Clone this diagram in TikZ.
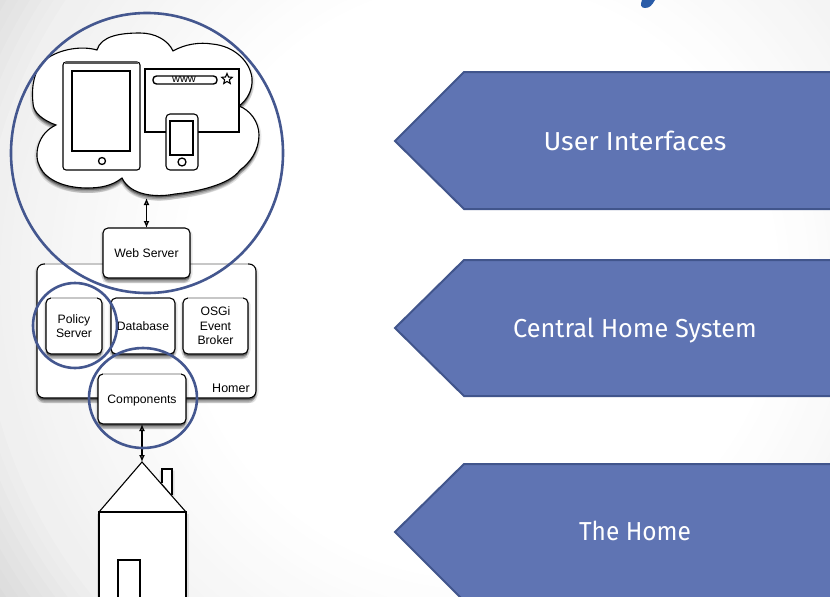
\documentclass[tikz,border=0pt]{standalone}
\usepackage{fontspec}
\setmainfont{Liberation Sans}
\newfontfamily\labelfont{Fira Sans}
\usetikzlibrary{arrows.meta,shapes.geometric,shadows}
\definecolor{ringblue}{HTML}{44578F}
\definecolor{pentfill}{HTML}{5F74B3}
\definecolor{pentline}{HTML}{41558C}
\definecolor{titleblue}{HTML}{2A5CA8}
\newcommand{\onelbl}[1]{\raisebox{-4.3pt}[0pt][0pt]{#1}}
\tikzset{
  softshadow/.style={
    general shadow={fill=black,opacity=.09,shadow xshift=-2.5pt,shadow yshift=-1.5pt},
    general shadow={fill=black,opacity=.09,shadow xshift=2.5pt,shadow yshift=-1.5pt},
    general shadow={fill=black,opacity=.12,shadow xshift=-1pt,shadow yshift=-5pt},
    general shadow={fill=black,opacity=.12,shadow xshift=1pt,shadow yshift=-5pt},
    general shadow={fill=black,opacity=.18,shadow xshift=0pt,shadow yshift=-3.5pt},
    general shadow={fill=black,opacity=.30,shadow xshift=0pt,shadow yshift=-2pt}},
  sketch/.style={draw=black,line width=1.1pt},
  boxnode/.style={sketch,softshadow,fill=white,rounded corners=5pt,inner sep=0pt,outer sep=0pt,align=center,font=\fontsize{12.2}{14.5}\selectfont},
  topedge/.style={draw=black!22,line width=2.2pt},
  ring/.style={draw=ringblue,line width=2.6pt},
  pent/.style={fill=pentfill,draw=pentline,line width=2pt},
  pentlabel/.style={text=white,font=\labelfont\fontsize{26}{30}\selectfont,inner sep=0pt},
  biarrow/.style={draw=black,line width=1.3pt,{Latex[open,length=7pt,width=6pt]}-{Latex[open,length=7pt,width=6pt]}}
}
\begin{document}
\begin{tikzpicture}[x=1pt,y=-1pt]
\useasboundingbox (0,0) rectangle (830,597);
\clip (0,0) rectangle (830,597);
% background: soft vignette
\fill[black!22] (0,0) rectangle (830,597);
\foreach \r in {800,790,...,300}{
  \pgfmathsetmacro{\g}{\r>500 ? 6+(\r-500)*0.1 : (\r-300)*0.03}
  \fill[black!\g] (480,280) circle (\r);
}
% fragment of a title
\fill[titleblue] (645,8) .. controls (641,8) and (640,5) .. (642,0) -- (655,0) .. controls (652,5) and (650,8) .. (645,8) -- cycle;
% cloud
\path[sketch,softshadow,fill=white] (97,50) .. controls (101,36) and (120,33) .. (140,33)
  .. controls (155,33) and (168,40) .. (173,51)
  .. controls (185,44) and (200,42) .. (212,44)
  .. controls (235,46) and (250,62) .. (252,78)
  .. controls (253,90) and (247,100) .. (239,106)
  .. controls (250,110) and (259,122) .. (259,135)
  .. controls (259,150) and (250,163) .. (240,170)
  .. controls (230,185) and (195,192) .. (175,194)
  .. controls (155,198) and (130,195) .. (122,178)
  .. controls (112,186) and (100,188) .. (87,188)
  .. controls (65,188) and (46,180) .. (40,167)
  .. controls (33,155) and (38,133) .. (56,125)
  .. controls (42,120) and (33,112) .. (33,103)
  .. controls (31,85) and (35,70) .. (43,62)
  .. controls (55,50) and (80,45) .. (97,50) -- cycle;
% tablet
\draw[sketch,fill=white,rounded corners=3pt] (63,62) rectangle (140,170);
\draw[draw=black!65,line width=2pt] (65,62.5) -- (138,62.5);
\draw[sketch,line width=1.4pt] (72,71) rectangle (130,151);
\draw[sketch,line width=1.3pt] (102,161) circle (3.5);
% browser
\draw[sketch,fill=white,line width=1.3pt] (145,69) rectangle (239,132);
\draw[sketch,fill=white,rounded corners=3.5pt,line width=1.4pt] (153,76) rectangle (217,84);
\node[font=\fontsize{11}{11}\selectfont,inner sep=0pt] (www) at (184,79.5) {www};
\node[draw=black,line width=1.1pt,star,star points=5,star point ratio=2.2,minimum size=11pt,inner sep=0pt] (fav) at (227,79) {};
% phone
\draw[sketch,fill=white,rounded corners=4pt] (166,114) rectangle (198,170);
\draw[sketch,line width=1.4pt] (170,121) rectangle (193,155);
\draw[sketch,line width=1.3pt] (182,162) circle (4);
\coordinate (cloudbot) at (146.5,198);
% home system
\node[boxnode,rounded corners=7pt,minimum width=219pt,minimum height=134pt] (homer) at (146.5,331) {};
\draw[topedge] ([xshift=8pt]homer.north west) -- ([xshift=-8pt]homer.north east);
\node[font=\fontsize{12.5}{13}\selectfont,inner sep=0pt] (homerlabel) at (231,388) {Homer};
\node[boxnode,minimum width=87pt,minimum height=50pt] (web) at (146.5,253) {\onelbl{Web Server}};
\node[boxnode,minimum width=56pt,minimum height=56pt] (policy) at (74,326) {Policy\\Server};
\draw[topedge] ([xshift=5pt]policy.north west) -- ([xshift=-5pt]policy.north east);
\node[boxnode,minimum width=64pt,minimum height=56pt] (db) at (143,326) {\onelbl{Database}};
\draw[topedge,draw=black!60] ([xshift=5pt]db.north west) -- ([xshift=-5pt]db.north east);
\node[boxnode,minimum width=65pt,minimum height=56pt] (osgi) at (215.5,326) {OSGi\\Event\\Broker};
\draw[topedge] ([xshift=5pt]osgi.north west) -- ([xshift=-5pt]osgi.north east);
\node[boxnode,minimum width=88pt,minimum height=50pt] (comp) at (142,399) {\onelbl{Components}};
\draw[topedge] ([xshift=5pt]comp.north west) -- ([xshift=-5pt]comp.north east);
% house
\draw[sketch,softshadow,fill=white,line width=1.3pt] (162,483) -- (162,469) -- (172,469) -- (172,495);
\coordinate (apex) at (142,462);
\path[sketch,softshadow,fill=white] (99,512) rectangle (186,610);
\draw[sketch,fill=white] (99,512) -- (apex) -- (186,512);
\draw[black,line width=2.2pt] (99,512) -- (186,512);
\draw[sketch,line width=1.4pt] (118,620) -- (118,560) -- (140,560) -- (140,620);
\draw[black,line width=2.4pt] (117,560) -- (141,560);
% connectors
\draw[biarrow] (cloudbot) -- (web.north);
\draw[biarrow] (comp.south) -- (apex);
% rings
\draw[ring] (147,153) ellipse (136 and 140);
\draw[ring] (75,325.5) ellipse (42 and 42.5);
\draw[ring] (143,398) ellipse (54 and 50);
% pentagons
\draw[pent] (395,141) -- (464,72) -- (840,72) -- (840,209) -- (464,209) -- cycle;
\draw[pent] (395,328) -- (464,260) -- (840,260) -- (840,396) -- (464,396) -- cycle;
\draw[pent] (395,532) -- (464,464) -- (840,464) -- (840,601) -- (464,601) -- cycle;
\node[pentlabel] (ui) at (635,141) {\scalebox{1.034}[1]{User Interfaces}};
\node[pentlabel] (chs) at (635,331) {\scalebox{0.972}[1]{Central Home System}};
\node[pentlabel] (home) at (635,531) {\scalebox{0.94}[1]{The Home}};
\end{tikzpicture}
\end{document}
